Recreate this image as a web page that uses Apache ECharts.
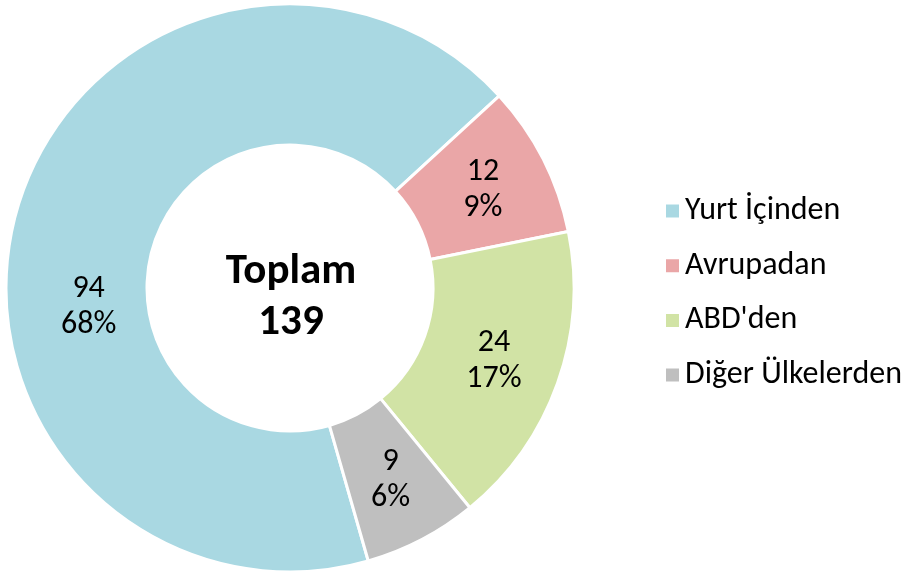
<!DOCTYPE html>
<html>
<head>
<meta charset="utf-8">
<script src="https://cdn.jsdelivr.net/npm/echarts@6/dist/echarts.min.js"></script>
<style>
  html, body { margin: 0; padding: 0; background: #fff; }
  #chart { width: 911px; height: 575px; }
</style>
</head>
<body>
<div id="chart"></div>
<script>
const categories = ['Yurt İçinden', 'Avrupadan', "ABD'den", 'Diğer Ülkelerden']
const values = [94, 12, 24, 9]
const colors = ['#a9d8e2', '#eaa6a7', '#d1e3a5', '#bfbfbf']
const totalLabel = 'Toplam'

const total = values.reduce((a, b) => a + b, 0)
const font = 'Carlito, Calibri, "Noto Sans", sans-serif'

const pieData = categories.map((name, i) => {
  const item = { name: name, value: values[i], itemStyle: { color: colors[i] } }
  // Excel placed this label a bit lower than the slice middle
  if (i === 0) item.label = { offset: [7, 78] }
  return item
})

const chart = echarts.init(document.getElementById('chart'))
const option = {
  animation: false,
  legend: {
    orient: 'vertical',
    left: 659,
    top: 190,
    icon: 'rect',
    itemWidth: 15,
    itemHeight: 15,
    itemGap: 22.7,
    textStyle: { fontFamily: font, fontSize: 32, color: '#000' },
    data: categories
  },
  graphic: [{
    type: 'text',
    x: 291,
    y: 298,
    style: {
      text: totalLabel + '\n' + total,
      font: 'bold 43px ' + font,
      lineHeight: 51,
      fill: '#000',
      align: 'center',
      verticalAlign: 'middle'
    }
  }],
  series: [{
    type: 'pie',
    center: [290, 288],
    radius: [143, 284],
    startAngle: -74,
    clockwise: true,
    itemStyle: { borderColor: '#fff', borderWidth: 3 },
    label: {
      position: 'inside',
      fontFamily: font,
      fontSize: 32,
      lineHeight: 36,
      color: '#000',
      formatter: p => p.value + '\n' + Math.round(p.value / total * 100) + '%'
    },
    labelLine: { show: false },
    emphasis: { disabled: true },
    data: pieData
  }]
}
chart.setOption(option)
</script>
</body>
</html>
